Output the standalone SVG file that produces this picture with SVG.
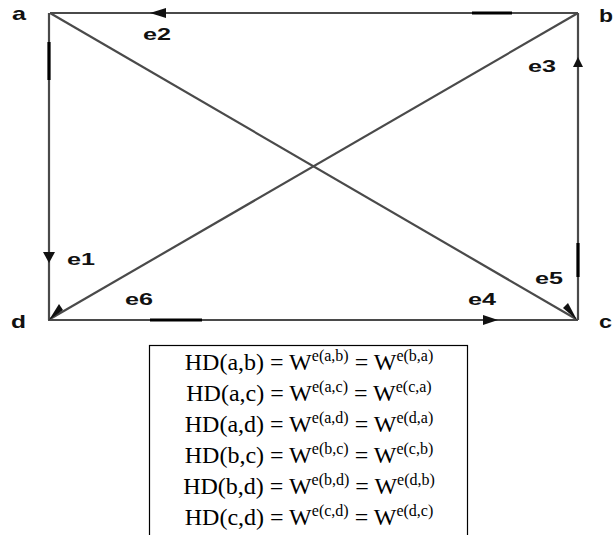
<svg xmlns="http://www.w3.org/2000/svg" width="616" height="535" viewBox="0 0 616 535">
<style>
.edge{stroke:#4a4a4a;stroke-width:2.2;fill:none}
.thick{stroke:#000;stroke-width:3.2;fill:none}
.nlabel{font-family:"Liberation Sans",Arial,sans-serif;font-weight:bold;font-size:19px;fill:#111}
.elabel{font-family:"Liberation Sans",Arial,sans-serif;font-weight:bold;font-size:17px;fill:#111}
.hd{font-family:"Liberation Serif","Times New Roman",serif;font-size:24px;fill:#000}
.sup{font-size:16px}
.arr{fill:#111}
</style>
<rect width="616" height="535" fill="#fff"/>
<g id="connectors">
<line class="edge" x1="50" y1="13" x2="578" y2="13"/>
<line class="edge" x1="49" y1="13" x2="49" y2="320"/>
<line class="edge" x1="578" y1="13" x2="578" y2="320"/>
<line class="edge" x1="48" y1="320" x2="578" y2="320"/>
<line class="edge" x1="50" y1="13" x2="576" y2="319"/>
<line class="edge" x1="578" y1="13" x2="50" y2="319"/>
<line class="thick" x1="472" y1="13" x2="512" y2="13"/>
<line class="thick" x1="49" y1="42" x2="49" y2="80"/>
<line class="thick" x1="578" y1="243" x2="578" y2="277"/>
<line class="thick" x1="150" y1="320" x2="202" y2="320"/>
<polygon class="arr" points="150,13 166,8 166,18"/>
<polygon class="arr" points="578,57 573,67 583,67"/>
<polygon class="arr" points="49,263 43,252 55,252"/>
<polygon class="arr" points="498,320 483,315 483,325"/>
<polygon class="arr" points="577,320 563,308 568,303"/>
<polygon class="arr" points="49,320 59,304 63,310"/>
</g>
<g id="node-a"><text class="nlabel" x="12" y="20" textLength="14" lengthAdjust="spacingAndGlyphs">a</text></g>
<g id="node-b"><text class="nlabel" x="599" y="22" textLength="14" lengthAdjust="spacingAndGlyphs">b</text></g>
<g id="node-c"><text class="nlabel" x="599" y="328" textLength="13" lengthAdjust="spacingAndGlyphs">c</text></g>
<g id="node-d"><text class="nlabel" x="11" y="328" textLength="15" lengthAdjust="spacingAndGlyphs">d</text></g>
<g id="edge-labels">
<text class="elabel" x="143" y="40" textLength="28" lengthAdjust="spacingAndGlyphs">e2</text>
<text class="elabel" x="528" y="72" textLength="28" lengthAdjust="spacingAndGlyphs">e3</text>
<text class="elabel" x="67" y="265" textLength="28" lengthAdjust="spacingAndGlyphs">e1</text>
<text class="elabel" x="125" y="305" textLength="28" lengthAdjust="spacingAndGlyphs">e6</text>
<text class="elabel" x="468" y="305" textLength="28" lengthAdjust="spacingAndGlyphs">e4</text>
<text class="elabel" x="535" y="284" textLength="28" lengthAdjust="spacingAndGlyphs">e5</text>
</g>
<g id="hd-box">
<rect x="149.5" y="345.5" width="318" height="195" fill="#fff" stroke="#000" stroke-width="1.2"/>
<text class="hd" x="309" y="370" text-anchor="middle">HD(a,b) = W<tspan class="sup" dy="-9">e(a,b)</tspan><tspan dy="9"> = W</tspan><tspan class="sup" dy="-9">e(b,a)</tspan></text>
<text class="hd" x="309" y="401" text-anchor="middle">HD(a,c) = W<tspan class="sup" dy="-9">e(a,c)</tspan><tspan dy="9"> = W</tspan><tspan class="sup" dy="-9">e(c,a)</tspan></text>
<text class="hd" x="309" y="432" text-anchor="middle">HD(a,d) = W<tspan class="sup" dy="-9">e(a,d)</tspan><tspan dy="9"> = W</tspan><tspan class="sup" dy="-9">e(d,a)</tspan></text>
<text class="hd" x="309" y="463" text-anchor="middle">HD(b,c) = W<tspan class="sup" dy="-9">e(b,c)</tspan><tspan dy="9"> = W</tspan><tspan class="sup" dy="-9">e(c,b)</tspan></text>
<text class="hd" x="309" y="494" text-anchor="middle">HD(b,d) = W<tspan class="sup" dy="-9">e(b,d)</tspan><tspan dy="9"> = W</tspan><tspan class="sup" dy="-9">e(d,b)</tspan></text>
<text class="hd" x="309" y="525" text-anchor="middle">HD(c,d) = W<tspan class="sup" dy="-9">e(c,d)</tspan><tspan dy="9"> = W</tspan><tspan class="sup" dy="-9">e(d,c)</tspan></text>
</g>
</svg>
